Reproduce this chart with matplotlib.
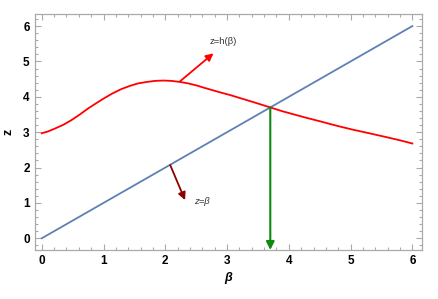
import matplotlib
matplotlib.use("Agg")
import matplotlib.pyplot as plt
from matplotlib.ticker import MultipleLocator

# Data
beta_line = [0, 6]
z_line = [0, 6]

beta_h = [0.0, 0.1, 0.21, 0.35, 0.48, 0.6, 0.75, 0.9, 1.02, 1.15, 1.29, 1.43,
          1.56, 1.70, 1.83, 1.97, 2.1, 2.24, 2.37, 2.51, 2.64, 2.78, 2.9,
          3.05, 3.2, 3.37, 3.5, 3.70, 3.9, 4.13, 4.3, 4.50, 4.67, 4.85,
          5.04, 5.3, 5.58, 5.8, 6.0]
z_h = [2.97, 3.02, 3.10, 3.21, 3.34, 3.48, 3.67, 3.84, 3.97, 4.10, 4.22, 4.31,
       4.38, 4.42, 4.45, 4.46, 4.45, 4.42, 4.38, 4.32, 4.25, 4.18, 4.12,
       4.05, 3.97, 3.88, 3.81, 3.70, 3.59, 3.48, 3.40, 3.31, 3.23, 3.15,
       3.07, 2.97, 2.86, 2.77, 2.68]

beta_star = 3.70
z_star = 3.70

xticks = [0, 1, 2, 3, 4, 5, 6]
yticks = [0, 1, 2, 3, 4, 5, 6]

plt.rcParams['font.family'] = ['Liberation Sans', 'DejaVu Sans']

fig = plt.figure(figsize=(4.38, 2.99), dpi=100)
ax = fig.add_axes([0.0788, 0.164, 0.8838, 0.789])

ax.plot(beta_line, z_line, color='#5E81B5', lw=1.3, zorder=2)
ax.plot(beta_h, z_h, color='#FF0000', lw=1.3, zorder=3, solid_joinstyle='round')

ax.set_xlim(-0.117, 6.15)
ax.set_ylim(-0.33, 6.34)

# green arrow from intersection down to the axis
ax.annotate('', xy=(beta_star, -0.33), xytext=(beta_star, z_star),
            arrowprops=dict(arrowstyle='-|>', color='#118811', lw=1.5,
                            mutation_scale=12, shrinkA=0, shrinkB=0), zorder=4)

# red annotation arrow
ax.annotate('', xy=(2.78, 5.23), xytext=(2.24, 4.44),
            arrowprops=dict(arrowstyle='-|>', color='#FF0000', lw=1.3,
                            mutation_scale=11, shrinkA=0, shrinkB=0), zorder=4)
ax.text(2.94, 5.55, 'z=h(\u03b2)', fontsize=6.8, color='#333333',
        ha='center', va='center')

# dark red annotation arrow
ax.annotate('', xy=(2.32, 1.08), xytext=(2.08, 2.07),
            arrowprops=dict(arrowstyle='-|>', color='#8B0000', lw=1.3,
                            mutation_scale=11, shrinkA=0, shrinkB=0), zorder=4)
ax.text(2.6, 1.05, 'z=\u03b2', fontsize=6.8, color='#333333',
        ha='center', va='center', style='italic')

ax.set_xticks(xticks)
ax.set_yticks(yticks)
ax.xaxis.set_minor_locator(MultipleLocator(0.2))
ax.yaxis.set_minor_locator(MultipleLocator(0.2))
ax.tick_params(which='both', direction='in', top=True, right=True,
               color='#AAAAAA', width=0.8)
ax.tick_params(which='major', length=4)
ax.tick_params(which='minor', length=2)
ax.tick_params(labelsize=8.5)
for lab in ax.get_xticklabels() + ax.get_yticklabels():
    lab.set_fontweight('bold')
for s in ax.spines.values():
    s.set_color('#AAAAAA')
    s.set_linewidth(0.9)

ax.set_xlabel('\u03b2', fontsize=9, fontweight='bold', style='italic', labelpad=4)
ax.set_ylabel('z', fontsize=9, fontweight='bold', labelpad=6)

fig.savefig('out.png', dpi=100)
